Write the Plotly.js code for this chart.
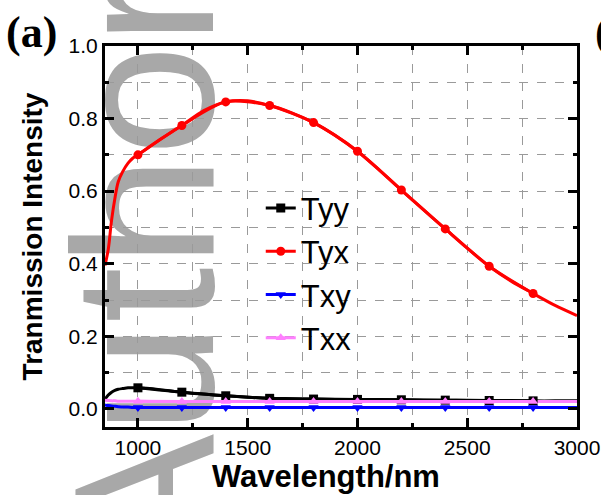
<!DOCTYPE html>
<html>
<head>
<meta charset="utf-8">
<script src="https://cdn.plot.ly/plotly-3.0.1.min.js"></script>
<style>html,body{margin:0;padding:0;background:#fff;}#chart{width:601px;height:495px;}</style>
</head>
<body>
<div id="chart"></div>
<script>
// Smooth curve sample wavelengths (nm)
var waveLine = [850, 865, 880, 895, 910, 930, 955, 975, 1000, 1100, 1200, 1300, 1400, 1500, 1600, 1700, 1800, 1900, 2000, 2100, 2200, 2300, 2400, 2500, 2600, 2700, 2800, 2900, 3000];
var tyyLine = [0.027, 0.038, 0.046, 0.051, 0.054, 0.056, 0.058, 0.058, 0.058, 0.053, 0.046, 0.041, 0.036, 0.032, 0.029, 0.028, 0.027, 0.026, 0.026, 0.025, 0.025, 0.024, 0.024, 0.023, 0.023, 0.023, 0.022, 0.022, 0.022];
var tyxLine = [0.395, 0.44, 0.52, 0.58, 0.625, 0.653, 0.677, 0.69, 0.700, 0.742, 0.781, 0.822, 0.846, 0.849, 0.836, 0.815, 0.789, 0.753, 0.710, 0.658, 0.603, 0.549, 0.496, 0.443, 0.393, 0.352, 0.318, 0.285, 0.257];
var txyLine = [0.011, 0.009, 0.008, 0.007, 0.006, 0.005, 0.005, 0.004, 0.004, 0.004, 0.004, 0.004, 0.004, 0.004, 0.004, 0.004, 0.004, 0.004, 0.004, 0.004, 0.004, 0.004, 0.004, 0.004, 0.004, 0.004, 0.004, 0.004, 0.004];
var txxLine = [0.024, 0.023, 0.022, 0.022, 0.021, 0.021, 0.021, 0.021, 0.021, 0.020, 0.020, 0.020, 0.020, 0.020, 0.020, 0.020, 0.020, 0.020, 0.020, 0.020, 0.020, 0.020, 0.020, 0.020, 0.020, 0.020, 0.020, 0.020, 0.020];

// Marker wavelengths (nm) and values
var waveMark = [1000, 1200, 1400, 1600, 1800, 2000, 2200, 2400, 2600, 2800];
var tyyMark = [0.058, 0.046, 0.036, 0.029, 0.027, 0.026, 0.025, 0.024, 0.023, 0.022];
var tyxMark = [0.700, 0.781, 0.846, 0.836, 0.789, 0.710, 0.603, 0.496, 0.393, 0.318];
var txyMark = [0.004, 0.004, 0.004, 0.004, 0.004, 0.004, 0.004, 0.004, 0.004, 0.004];
var txxMark = [0.021, 0.020, 0.020, 0.020, 0.020, 0.020, 0.020, 0.020, 0.020, 0.020];

var seriesNames = ['Tyy', 'Tyx', 'Txy', 'Txx'];
var xTickVals = [1000, 1500, 2000, 2500, 3000];
var yTickVals = [0.0, 0.2, 0.4, 0.6, 0.8, 1.0];

var colors = ['#000000', '#ff0000', '#0000ff', '#ff80ff'];
var symbols = ['square', 'circle', 'triangle-down', 'triangle-up'];
var lines = [tyyLine, tyxLine, txyLine, txxLine];
var marks = [tyyMark, tyxMark, txyMark, txxMark];

var traces = [];
for (var i = 0; i < 4; i++) {
  traces.push({
    x: waveLine, y: lines[i], mode: 'lines', type: 'scatter',
    line: {color: colors[i], width: 3, shape: 'spline', smoothing: 0.8},
    showlegend: false, hoverinfo: 'skip', legendgroup: seriesNames[i]
  });
}
for (var j = 0; j < 4; j++) {
  traces.push({
    x: waveMark, y: marks[j], mode: 'lines+markers', type: 'scatter', name: seriesNames[j],
    line: {color: colors[j], width: 3, shape: 'spline', smoothing: 0.8},
    marker: {color: colors[j], symbol: symbols[j], size: 9},
    legendgroup: seriesNames[j]
  });
}

var FONT = 'Liberation Sans, Arial, sans-serif';
var layout = {
  width: 601, height: 495,
  margin: {l: 105, r: 24, t: 46, b: 68},
  paper_bgcolor: '#ffffff', plot_bgcolor: 'rgba(0,0,0,0)',
  font: {family: FONT, color: '#000', size: 20},
  showlegend: true,
  legend: {x: 0.33, y: 0.645, xanchor: 'left', yanchor: 'top', bgcolor: 'rgba(0,0,0,0)',
           font: {family: FONT, size: 31, color: '#000'}, tracegroupgap: 0},
  xaxis: {
    range: [850, 3000], tickvals: xTickVals, ticks: 'inside', ticklen: 9, tickwidth: 3, tickcolor: '#000',
    showline: true, linewidth: 3, linecolor: '#000', mirror: 'allticks',
    showgrid: true, gridcolor: '#9a9a9a', gridwidth: 1, griddash: 'dash', zeroline: false,
    tickfont: {family: FONT, size: 21},
    minor: {dtick: 250, tick0: 1000, ticks: 'inside', ticklen: 4, tickwidth: 3, tickcolor: '#000',
            showgrid: true, gridcolor: '#9a9a9a', gridwidth: 1, griddash: 'dash'}
  },
  yaxis: {
    range: [-0.05, 1.0], tickvals: yTickVals, tickformat: '.1f', ticks: 'inside', ticklen: 9, tickwidth: 3, tickcolor: '#000',
    showline: true, linewidth: 3, linecolor: '#000', mirror: 'allticks',
    showgrid: true, gridcolor: '#9a9a9a', gridwidth: 1, griddash: 'dash', zeroline: false,
    tickfont: {family: FONT, size: 21},
    minor: {dtick: 0.1, tick0: 0, ticks: 'inside', ticklen: 4, tickwidth: 3, tickcolor: '#000',
            showgrid: true, gridcolor: '#9a9a9a', gridwidth: 1, griddash: 'dash'},
    title: {text: '<b>Tranmission Intensity</b>', font: {family: FONT, size: 28}, standoff: 18}
  },
  shapes: [{
    type: 'rect', xref: 'paper', yref: 'paper', x0: 0.031, x1: 0.051, y0: 0.39, y1: 0.42,
    line: {width: 0}, fillcolor: 'rgba(0,0,0,0)', layer: 'below',
    label: {text: 'Author', textangle: -90, textposition: 'middle center',
            font: {family: FONT, size: 200, color: '#a8a8a8'}}
  }],
  annotations: [
    {text: '<b>Wavelength/nm</b>', xref: 'paper', yref: 'paper', x: 0.468, y: -0.131, xanchor: 'center', yanchor: 'middle',
     showarrow: false, font: {family: FONT, size: 31, color: '#000'}},
    {text: '<b>(a)</b>', xref: 'paper', yref: 'paper', x: -0.214, y: 1.036, xanchor: 'left', yanchor: 'middle',
     showarrow: false, font: {family: 'Liberation Serif, Times New Roman, serif', size: 44, color: '#000'}},
    {text: '<b>(b)</b>', xref: 'paper', yref: 'paper', x: 1.034, y: 1.036, xanchor: 'left', yanchor: 'middle',
     showarrow: false, font: {family: 'Liberation Serif, Times New Roman, serif', size: 44, color: '#000'}}
  ]
};

Plotly.newPlot('chart', traces, layout, {displayModeBar: false, staticPlot: true});
</script>
</body>
</html>
